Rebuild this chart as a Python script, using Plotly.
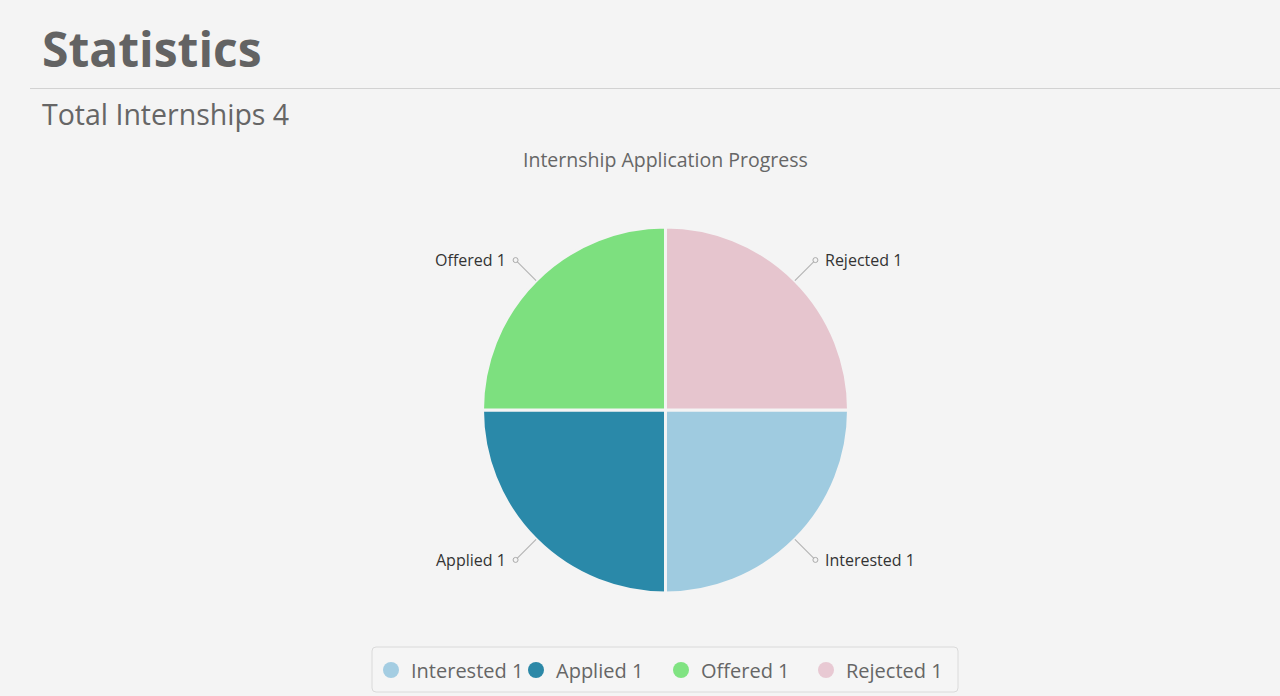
import math
import plotly.graph_objects as go

# ---- data ----
labels = ["Interested", "Applied", "Offered", "Rejected"]
values = [1, 1, 1, 1]
slice_colors = ["#9fcbe0", "#2a89a9", "#7de07f", "#e6c5ce"]
legend_colors = ["#a4cde2", "#2c88a7", "#80e382", "#e8c9d3"]
page_title = "Statistics"
subtitle = "Total Internships " + str(sum(values))
chart_title = "Internship Application Progress"

W, H = 1280, 696
BG = "#f4f4f4"
FONT = "Open Sans"

def px(x):
    return x / W

def py(y):
    return 1 - y / H

# pie geometry (pixels)
cx, cy, r = 665.5, 410, 183

fig = go.Figure()
fig.add_trace(go.Pie(
    labels=labels, values=values, sort=False, direction="clockwise", rotation=90,
    marker=dict(colors=slice_colors, line=dict(color=BG, width=3)),
    textinfo="none", hoverinfo="label+value", showlegend=False,
    domain=dict(x=[px(cx - r), px(cx + r)], y=[py(cy + r), py(cy - r)]),
))

# legend entries (circles)
for lab, val, col in zip(labels, values, legend_colors):
    fig.add_trace(go.Scatter(
        x=[None], y=[None], mode="markers", name=f"{lab} {val}",
        marker=dict(symbol="circle", size=18, color=col),
    ))

shapes = []
annotations = []

# separator line
shapes.append(dict(type="line", xref="paper", yref="paper",
                   x0=px(30), x1=1, y0=py(88.5), y1=py(88.5),
                   line=dict(color="#d2d2d2", width=1)))

# legend frame (rounded)
lx0, lx1, ly0, ly1, rad = 372, 958, 647, 692, 4
path = (f"M {px(lx0+rad)},{py(ly0)} L {px(lx1-rad)},{py(ly0)} "
        f"Q {px(lx1)},{py(ly0)} {px(lx1)},{py(ly0+rad)} L {px(lx1)},{py(ly1-rad)} "
        f"Q {px(lx1)},{py(ly1)} {px(lx1-rad)},{py(ly1)} L {px(lx0+rad)},{py(ly1)} "
        f"Q {px(lx0)},{py(ly1)} {px(lx0)},{py(ly1-rad)} L {px(lx0)},{py(ly0+rad)} "
        f"Q {px(lx0)},{py(ly0)} {px(lx0+rad)},{py(ly0)} Z")
shapes.append(dict(type="path", xref="paper", yref="paper", path=path,
                   line=dict(color="#dadada", width=1), fillcolor="#f5f5f5", layer="below"))

# slice labels with leader lines
total = sum(values)
cum = 0
for lab, val in zip(labels, values):
    theta = math.radians(360 * (cum + val / 2) / total)
    cum += val
    c, s = math.cos(theta), math.sin(theta)
    x0, y0 = cx + r * c, cy + r * s
    lr = r + 29
    x1, y1 = cx + lr * c, cy + lr * s
    shapes.append(dict(type="line", xref="paper", yref="paper",
                       x0=px(x0), y0=py(y0), x1=px(x1), y1=py(y1),
                       line=dict(color="#b4b4b4", width=1.2)))
    shapes.append(dict(type="circle", xref="paper", yref="paper",
                       x0=px(x1 - 2.5), x1=px(x1 + 2.5), y0=py(y1 + 2.5), y1=py(y1 - 2.5),
                       line=dict(color="#aaaaaa", width=1), fillcolor=BG))
    right = c >= 0
    annotations.append(dict(
        text=f"{lab} {val}", xref="paper", yref="paper",
        x=px(x1 + (8 if right else -8)), y=py(y1),
        xanchor="left" if right else "right", yanchor="middle",
        showarrow=False, font=dict(family=FONT, size=16, color="#333333"),
    ))

annotations.append(dict(text=f"<b>{page_title}</b>", xref="paper", yref="paper",
                        x=px(40), y=py(48), xanchor="left", yanchor="middle",
                        showarrow=False, font=dict(family=FONT, size=48, color="#636363")))
annotations.append(dict(text=subtitle, xref="paper", yref="paper",
                        x=px(40), y=py(114), xanchor="left", yanchor="middle",
                        showarrow=False, font=dict(family=FONT, size=28.5, color="#666666")))
annotations.append(dict(text=chart_title, xref="paper", yref="paper",
                        x=px(665.5), y=py(159), xanchor="center", yanchor="middle",
                        showarrow=False, font=dict(family=FONT, size=19.5, color="#666666")))

fig.update_layout(
    width=W, height=H, margin=dict(l=0, r=0, t=0, b=0),
    paper_bgcolor=BG, plot_bgcolor=BG,
    xaxis=dict(visible=False), yaxis=dict(visible=False),
    shapes=shapes, annotations=annotations,
    legend=dict(orientation="h", x=px(371), xanchor="left", y=py(670), yanchor="middle",
                bgcolor="rgba(0,0,0,0)", borderwidth=0,
                font=dict(family=FONT, size=20, color="#666666"),
                entrywidth=100),
)

fig.write_html("out.html")
